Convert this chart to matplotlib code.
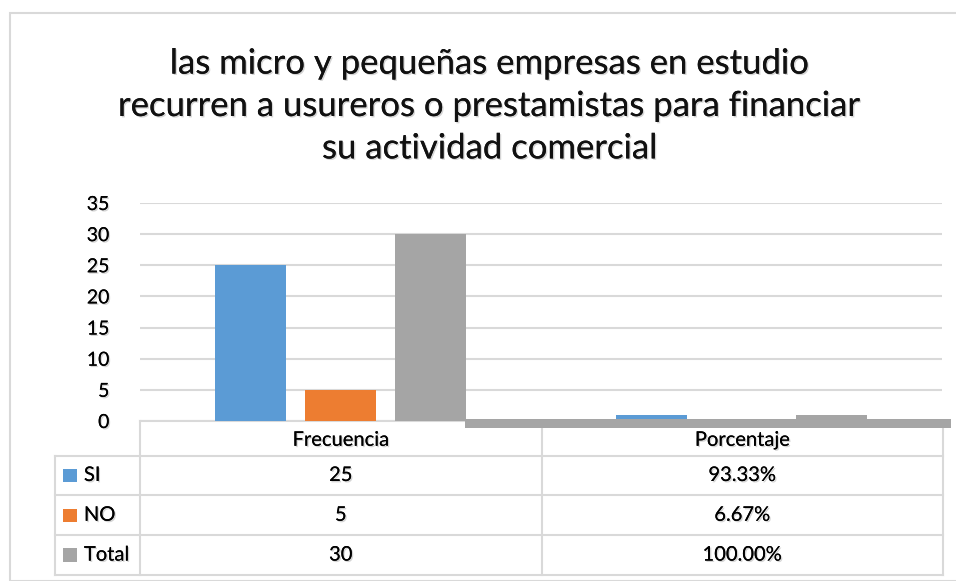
import matplotlib
matplotlib.use("Agg")
import matplotlib.pyplot as plt
import matplotlib.patheffects as pe
from matplotlib.patches import Rectangle

title = "las micro y pequeñas empresas en estudio\nrecurren a usureros o prestamistas para financiar\nsu actividad comercial"
categories = ["Frecuencia", "Porcentaje"]
series = ["SI", "NO", "Total"]
values = {
    "SI": [25, 0.9333],
    "NO": [5, 0.0667],
    "Total": [30, 1.0],
}
cell_text = {
    "SI": ["25", "93.33%"],
    "NO": ["5", "6.67%"],
    "Total": ["30", "100.00%"],
}
colors = {"SI": "#5b9bd5", "NO": "#ed7d31", "Total": "#a5a5a5"}
yticks = [0, 5, 10, 15, 20, 25, 30, 35]

W, H = 956, 581
fig = plt.figure(figsize=(W / 100, H / 100), dpi=100)
plt.rcParams["font.family"] = ["Lato", "DejaVu Sans"]
grid_c = "#d9d9d9"
shadow = [pe.withSimplePatchShadow(offset=(1, -1), shadow_rgbFace="#888888", alpha=0.35), pe.Normal()]


def px(x0, y0, x1, y1):
    # pixel box (top-left origin) -> figure fraction rect
    return [x0 / W, 1 - y1 / H, (x1 - x0) / W, (y1 - y0) / H]


# outer chart border
fig.add_artist(Rectangle((10 / W, 0), 1, 1 - 13 / H, transform=fig.transFigure,
                         fill=False, edgecolor=grid_c, lw=1.5))

fig.text(490 / W, 1 - 106 / H, title, ha="center", va="center", fontsize=25,
         linespacing=1.4, color="#111111", path_effects=shadow)

# bar area
ax = fig.add_axes(px(140, 203, 942, 421))
bw = 0.177
gap = 0.047
offsets = [-(bw + gap), 0, bw + gap]
for s, off in zip(series, offsets):
    ax.bar([i + off for i in range(len(categories))], values[s], width=bw,
           color=colors[s], zorder=3)
ax.set_xlim(-0.5, 1.5)
ax.set_ylim(0, 35)
ax.set_yticks(yticks)
ax.set_xticks([])
ax.grid(axis="y", color=grid_c, lw=1.5, zorder=0)
for sp in ["top", "right", "left"]:
    ax.spines[sp].set_visible(False)
ax.spines["bottom"].set_color(grid_c)
ax.spines["bottom"].set_linewidth(1.5)
ax.tick_params(axis="y", length=0, labelsize=14, pad=22)
for lab in ax.get_yticklabels():
    lab.set_path_effects(shadow)

# grey strip under the second category
fig.add_artist(Rectangle((465 / W, 1 - 428 / H), (951 - 465) / W, 9 / H,
                         transform=fig.transFigure, color="#a5a5a5", lw=0))

# data table
tx = fig.add_axes(px(55, 421, 943, 575))
left = -0.5 - 85 / 401
tx.set_xlim(left, 1.5)
tx.set_ylim(3 + 33 / 38, -0.0)
tx.axis("off")
hdr = 33 / 38
rows_y = [hdr + i for i in range(len(series) + 1)]
lk = dict(color=grid_c, lw=1.5, clip_on=False)
# header verticals
for xv in [-0.5, 0.5, 1.5]:
    tx.plot([xv, xv], [0, rows_y[-1]], **lk)
tx.plot([left, left], [rows_y[0], rows_y[-1]], **lk)
for yv in rows_y:
    tx.plot([left, 1.5], [yv, yv], **lk)
fs = 14.5
for i, c in enumerate(categories):
    tx.text(i, hdr / 2 + 0.05, c, ha="center", va="center", fontsize=fs, path_effects=shadow)
for r, s in enumerate(series):
    yc = rows_y[r] + 0.5
    tx.add_patch(Rectangle((left + 0.02, yc - 0.17), 0.035, 0.34, color=colors[s], lw=0))
    tx.text(left + 0.072, yc, s, ha="left", va="center", fontsize=fs, path_effects=shadow)
    for i, t in enumerate(cell_text[s]):
        tx.text(i, yc, t, ha="center", va="center", fontsize=fs, path_effects=shadow)

fig.savefig("out.png", dpi=100)
